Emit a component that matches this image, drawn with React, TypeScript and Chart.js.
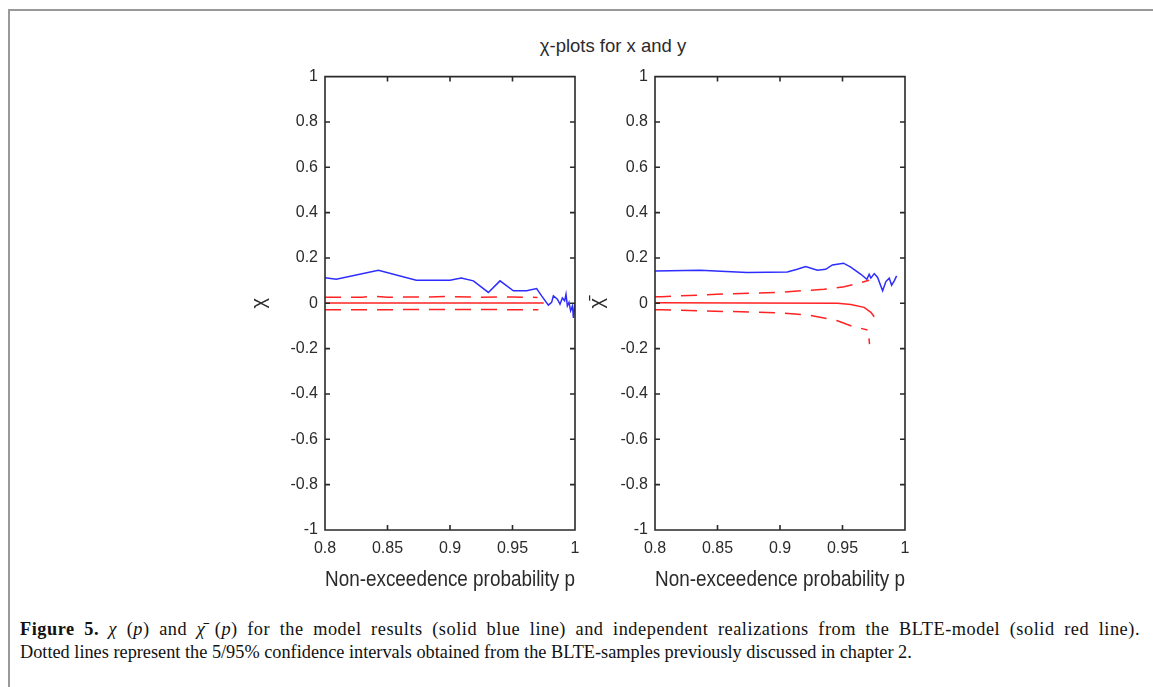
import React, { useEffect, useRef } from 'react';
import { Chart, registerables } from 'chart.js';

Chart.register(...registerables);

// ---------- axis ticks ----------
const xTickValues = [0.8, 0.85, 0.9, 0.95, 1];
const xTickLabels = ['0.8', '0.85', '0.9', '0.95', '1'];
const yTickValues = [1, 0.8, 0.6, 0.4, 0.2, 0, -0.2, -0.4, -0.6, -0.8, -1];
const yTickLabels = ['1', '0.8', '0.6', '0.4', '0.2', '0', '-0.2', '-0.4', '-0.6', '-0.8', '-1'];

// ---------- left panel: chi(p) ----------
const leftBlueP = [0.8, 0.809, 0.8427, 0.873, 0.9, 0.909, 0.9187, 0.9307, 0.94, 0.9507, 0.9613, 0.9693, 0.9733, 0.9787, 0.9813, 0.9827, 0.9859, 0.988, 0.9899, 0.9917, 0.9928, 0.9939, 0.9952, 0.9965, 0.998, 0.9987, 1.0];
const leftBlueV = [0.113, 0.106, 0.146, 0.102, 0.102, 0.112, 0.099, 0.048, 0.099, 0.055, 0.055, 0.065, 0.033, -0.008, 0.004, 0.033, 0.018, -0.004, 0.023, 0.011, 0.04, -0.011, 0.004, -0.033, -0.011, -0.065, 0.0];
const leftRedP = [0.8, 0.975];
const leftRedV = [0.001, 0.001];
const leftUpperP = [0.8, 0.83, 0.84, 0.85, 0.88, 0.9, 0.92, 0.95, 0.97];
const leftUpperV = [0.027, 0.027, 0.031, 0.027, 0.028, 0.03, 0.027, 0.028, 0.026];
const leftLowerP = [0.8, 0.85, 0.9, 0.95, 0.9707];
const leftLowerV = [-0.028, -0.028, -0.027, -0.028, -0.028];

// ---------- right panel: chi-bar(p) ----------
const rightBlueP = [0.8, 0.836, 0.8737, 0.9058, 0.9138, 0.9205, 0.9299, 0.9365, 0.9419, 0.9508, 0.9566, 0.9647, 0.9695, 0.9713, 0.9727, 0.9754, 0.9781, 0.9821, 0.9847, 0.9874, 0.9893, 0.9914, 0.9933];
const rightBlueV = [0.143, 0.146, 0.136, 0.138, 0.15, 0.162, 0.146, 0.15, 0.169, 0.177, 0.16, 0.128, 0.106, 0.128, 0.111, 0.131, 0.114, 0.055, 0.096, 0.111, 0.08, 0.099, 0.121];
const rightRedP = [0.8, 0.946, 0.9566, 0.9673, 0.9727, 0.9754];
const rightRedV = [0.002, 0.0, -0.005, -0.018, -0.04, -0.059];
const rightUpperP = [0.8, 0.8054, 0.8495, 0.8977, 0.9165, 0.9352, 0.9513, 0.962, 0.9713];
const rightUpperV = [0.029, 0.029, 0.04, 0.048, 0.055, 0.062, 0.073, 0.087, 0.102];
const rightLowerP = [0.8, 0.8054, 0.8549, 0.8763, 0.9004, 0.9218, 0.9352, 0.946, 0.9566, 0.97, 0.9706, 0.9712, 0.9716];
const rightLowerV: (number | null)[] = [-0.028, -0.028, -0.036, -0.038, -0.043, -0.051, -0.065, -0.077, -0.099, -0.118, null, -0.155, -0.18];

const BLUE = 'rgb(45,45,255)';
const RED = 'rgb(255,35,35)';
const AXIS = '#2a2a2a';
const TEXT = '#2b2b2b';
const SANS = '"Liberation Sans", Arial, sans-serif';
const SERIF = '"Liberation Serif", "Times New Roman", serif';

const pts = (xs: number[], ys: (number | null)[]) => xs.map((x, i) => ({ x, y: ys[i] }));

const boxPlugin = {
  id: 'matlabBox',
  afterDatasetsDraw(chart: any) {
    const { ctx, chartArea: a, scales } = chart;
    const xs = scales.x;
    const ys = scales.y;
    const tl = 5;
    ctx.save();
    ctx.strokeStyle = AXIS;
    ctx.lineWidth = 1.6;
    ctx.beginPath();
    ctx.rect(a.left, a.top, a.right - a.left, a.bottom - a.top);
    xTickValues.forEach((v) => {
      const px = xs.getPixelForValue(v);
      ctx.moveTo(px, a.bottom);
      ctx.lineTo(px, a.bottom - tl);
      ctx.moveTo(px, a.top);
      ctx.lineTo(px, a.top + tl);
    });
    yTickValues.forEach((v) => {
      const py = ys.getPixelForValue(v);
      ctx.moveTo(a.left, py);
      ctx.lineTo(a.left + tl, py);
      ctx.moveTo(a.right, py);
      ctx.lineTo(a.right - tl, py);
    });
    ctx.stroke();
    ctx.restore();
  },
};

type Panel = {
  blue: { x: number; y: number | null }[];
  red: { x: number; y: number | null }[];
  upper: { x: number; y: number | null }[];
  lower: { x: number; y: number | null }[];
  yTitle: string;
  yTitlePad: number;
};

function makeConfig(p: Panel): any {
  const dash = [16, 10];
  return {
    type: 'line',
    data: {
      datasets: [
        { data: p.upper, borderColor: RED, borderWidth: 1.5, borderDash: dash, pointRadius: 0, spanGaps: false, tension: 0 },
        { data: p.lower, borderColor: RED, borderWidth: 1.5, borderDash: dash, pointRadius: 0, spanGaps: false, tension: 0 },
        { data: p.red, borderColor: RED, borderWidth: 1.5, pointRadius: 0, tension: 0 },
        { data: p.blue, borderColor: BLUE, borderWidth: 1.5, pointRadius: 0, tension: 0 },
      ],
    },
    options: {
      responsive: false,
      animation: false,
      events: [],
      layout: { padding: { top: 15, right: 35, left: 0, bottom: 0 } },
      plugins: { legend: { display: false }, tooltip: { enabled: false }, title: { display: false } },
      scales: {
        x: {
          type: 'linear',
          min: 0.8,
          max: 1,
          grid: { display: false, drawTicks: false },
          border: { display: false },
          afterBuildTicks: (s: any) => { s.ticks = xTickValues.map((v) => ({ value: v })); },
          afterFit: (s: any) => { s.height = 70; },
          ticks: {
            padding: 9,
            color: TEXT,
            font: { family: SANS, size: 16 },
            maxRotation: 0,
            autoSkip: false,
            callback: (_v: any, i: number) => xTickLabels[i],
          },
          title: {
            display: true,
            text: 'Non-exceedence probability p',
            color: TEXT,
            font: { family: SANS, size: 21.5 },
            padding: { top: 0, bottom: 7 },
          },
        },
        y: {
          type: 'linear',
          min: -1,
          max: 1,
          grid: { display: false, drawTicks: false },
          border: { display: false },
          afterBuildTicks: (s: any) => { s.ticks = yTickValues.map((v) => ({ value: v })); },
          afterFit: (s: any) => { s.width = 95; },
          ticks: {
            padding: 7,
            color: TEXT,
            font: { family: SANS, size: 16 },
            autoSkip: false,
            callback: (_v: any, i: number) => yTickLabels[i],
          },
          title: {
            display: true,
            text: p.yTitle,
            color: TEXT,
            font: { family: SANS, size: 20 },
            padding: { top: p.yTitlePad, bottom: 0 },
          },
        },
      },
    },
    plugins: [boxPlugin],
  };
}

function ChartPanel({ panel, left }: { panel: Panel; left: number }) {
  const ref = useRef<HTMLCanvasElement | null>(null);
  useEffect(() => {
    if (!ref.current) return;
    const c = new Chart(ref.current, makeConfig(panel));
    return () => c.destroy();
  }, []);
  return (
    <canvas
      ref={ref}
      width={380}
      height={540}
      style={{ position: 'absolute', left, top: 60, width: 380, height: 540 }}
    />
  );
}

const leftPanel: Panel = {
  blue: pts(leftBlueP, leftBlueV),
  red: pts(leftRedP, leftRedV),
  upper: pts(leftUpperP, leftUpperV),
  lower: pts(leftLowerP, leftLowerV),
  yTitle: 'χ',
  yTitlePad: 17,
};

const rightPanel: Panel = {
  blue: pts(rightBlueP, rightBlueV),
  red: pts(rightRedP, rightRedV),
  upper: pts(rightUpperP, rightUpperV),
  lower: pts(rightLowerP, rightLowerV),
  yTitle: 'χ\u0304',
  yTitlePad: 25,
};

export default function App() {
  return (
    <div style={{ position: 'absolute', left: 0, top: 0, width: 1153, height: 687, background: '#fff', overflow: 'hidden' }}>
      <div
        style={{
          position: 'absolute',
          left: 8,
          top: 9,
          width: 1200,
          height: 700,
          borderLeft: '2px solid #999',
          borderTop: '2px solid #999',
        }}
      />
      <div
        style={{
          position: 'absolute',
          left: 413,
          width: 400,
          top: 35,
          textAlign: 'center',
          fontFamily: SANS,
          fontSize: 18.5,
          lineHeight: '22px',
          color: TEXT,
        }}
      >
        χ-plots for x and y
      </div>
      <ChartPanel panel={leftPanel} left={230} />
      <ChartPanel panel={rightPanel} left={560} />
      <div
        style={{
          position: 'absolute',
          left: 20,
          top: 618,
          width: 1120,
          fontFamily: SERIF,
          fontSize: 18.3,
          lineHeight: '23px',
          color: '#111',
        }}
      >
        <div style={{ textAlign: 'justify', textAlignLast: 'justify', whiteSpace: 'normal', letterSpacing: '0.55px' }}>
          <b>Figure 5.</b> <i>χ</i> (<i>p</i>) and <i>χ̄</i> (<i>p</i>) for the model results (solid blue line) and independent realizations from the BLTE-model (solid red line).
        </div>
        <div style={{ whiteSpace: 'nowrap' }}>
          Dotted lines represent the 5/95% confidence intervals obtained from the BLTE-samples previously discussed in chapter 2.
        </div>
      </div>
    </div>
  );
}
